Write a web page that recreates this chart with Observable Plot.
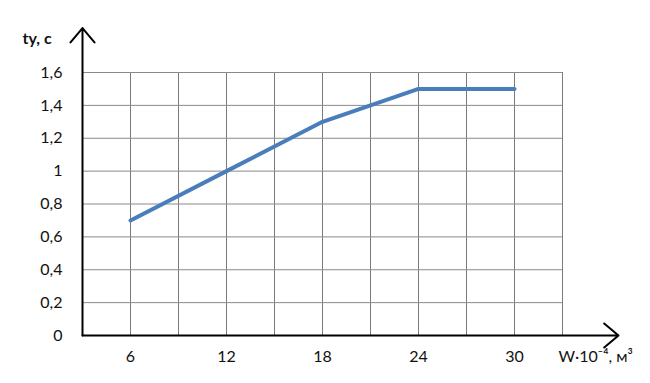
<!DOCTYPE html>
<html><head><meta charset="utf-8">
<script src="https://cdn.jsdelivr.net/npm/d3@7"></script>
<script src="https://cdn.jsdelivr.net/npm/@observablehq/plot@0.6"></script>
<style>body{margin:0;background:#fff}</style>
</head><body><div id="chart"></div>
<script>
const volumes = [6, 12, 18, 24, 30];
const times = [0.7, 1.0, 1.3, 1.5, 1.5];
const xTicks = [6, 12, 18, 24, 30];
const yTicks = [0, 0.2, 0.4, 0.6, 0.8, 1.0, 1.2, 1.4, 1.6];
const xGrid = [6, 9, 12, 15, 18, 21, 24, 27, 30, 33];
const yGrid = [0.2, 0.4, 0.6, 0.8, 1.0, 1.2, 1.4, 1.6];
const yLabel = "tу, с";
const xLabel = "W·10⁻⁴, м³";

const data = volumes.map((v, i) => ({x: v, y: times[i]}));
const fmt = d => String(d).replace(".", ",");

const chart = Plot.plot({
  width: 650, height: 383,
  marginLeft: 82, marginRight: 88, marginTop: 72, marginBottom: 48,
  style: {fontFamily: "Lato, 'Open Sans', sans-serif", fontSize: "16px", color: "#111", background: "#fff"},
  x: {domain: [3, 33], axis: null},
  y: {domain: [0, 1.6], axis: null},
  marks: [
    Plot.ruleX(xGrid, {x: d => d, y1: 0, y2: 1.6, stroke: "#7a7a7a", strokeWidth: 1}),
    Plot.ruleY(yGrid, {y: d => d, x1: 3, x2: 33, stroke: "#8a8a8a", strokeWidth: 1}),
    Plot.arrow([{x1: 3, y1: 0, x2: 3, y2: 1.87}], {x1: "x1", y1: "y1", x2: "x2", y2: "y2", stroke: "#000", strokeWidth: 2, headLength: 14, headAngle: 80, clip: false}),
    Plot.arrow([{x1: 3, y1: 0, x2: 36.5, y2: 0}], {x1: "x1", y1: "y1", x2: "x2", y2: "y2", stroke: "#000", strokeWidth: 2, headLength: 14, headAngle: 80, clip: false}),
    Plot.line(data, {x: "x", y: "y", stroke: "#4a7ebb", strokeWidth: 4}),
    Plot.text(yTicks, {x: 3, y: d => d, text: fmt, textAnchor: "end", dx: -20, fontSize: 16}),
    Plot.text(xTicks, {x: d => d, y: 0, text: d => String(d), dy: 21, fontSize: 16}),
    Plot.text([yLabel], {frameAnchor: "top-left", dx: -60, dy: -40, textAnchor: "start", text: d => d, fontSize: 16, fontWeight: "bold"}),
    Plot.text([xLabel], {x: 33, y: 0, dx: -4, dy: 21, textAnchor: "start", text: d => d, fontSize: 16})
  ]
});
document.getElementById("chart").appendChild(chart);
</script>
</body></html>
